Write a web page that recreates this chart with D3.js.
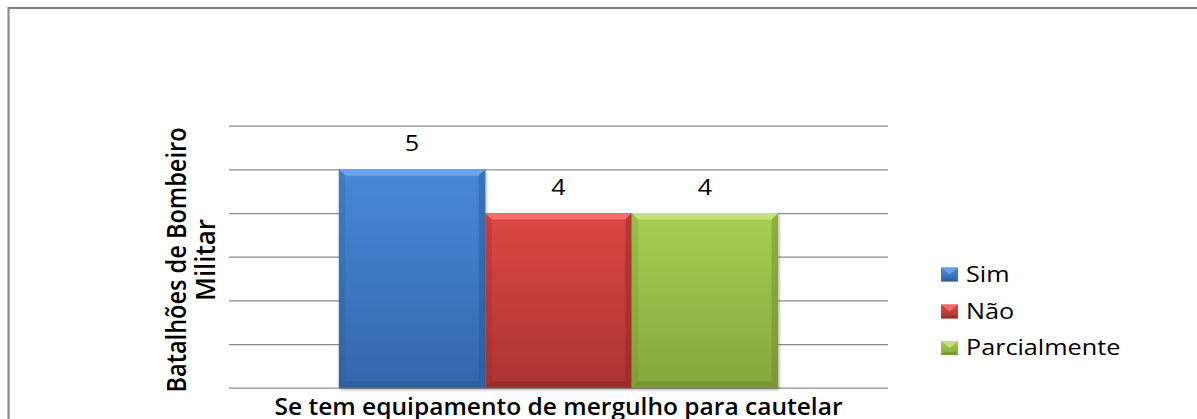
<!DOCTYPE html>
<html>
<head>
<meta charset="utf-8">
<script src="https://cdn.jsdelivr.net/npm/d3@7"></script>
<style>
  html, body { margin: 0; padding: 0; background: #fff; }
  svg { display: block; }
  text { font-family: "Open Sans", "DejaVu Sans", sans-serif; fill: #000; }
</style>
</head>
<body>
<svg id="chart" width="1197" height="419"></svg>
<script>
// Chart data
const categories = ["Se tem equipamento de mergulho para cautelar"];
const seriesNames = ["Sim", "Não", "Parcialmente"];
const seriesValues = [5, 4, 4];
const yTicks = [0, 1, 2, 3, 4, 5, 6];
const yTitleLines = ["Batalhões de Bombeiro", "Militar"];

// Bar colours: [top of gradient, bottom of gradient, light bevel, dark bevel]
const palette = {
  "Sim":          ["#4689d8", "#3466ac", "#6ea6ec", "#2b568f"],
  "Não":          ["#dc4744", "#ab3431", "#f07370", "#8a2725"],
  "Parcialmente": ["#a8cf52", "#85a63b", "#c4e57c", "#6c8a2c"]
};

const svg = d3.select("#chart");
const W = 1197, H = 419;
const plot = { left: 229, right: 888, top: 125.7, bottom: 387.7 };
const textStretch = 1.2;

const defs = svg.append("defs");
seriesNames.forEach((s, i) => {
  const g = defs.append("linearGradient").attr("id", "grad" + i)
    .attr("x1", 0).attr("y1", 0).attr("x2", 0).attr("y2", 1);
  g.append("stop").attr("offset", "0%").attr("stop-color", palette[s][0]);
  g.append("stop").attr("offset", "100%").attr("stop-color", palette[s][1]);
});
const shadow = defs.append("filter").attr("id", "shadow")
  .attr("x", "-10%").attr("y", "-10%").attr("width", "120%").attr("height", "120%");
shadow.append("feDropShadow").attr("dx", 1).attr("dy", 2).attr("stdDeviation", 1.6)
  .attr("flood-color", "#000").attr("flood-opacity", 0.35);

// Outer frame
svg.append("rect").attr("x", 0).attr("y", 0).attr("width", W).attr("height", H).attr("fill", "#fff");
svg.append("rect").attr("x", 8.5).attr("y", 8).attr("width", W + 20).attr("height", H + 20)
  .attr("fill", "none").attr("stroke", "#878787").attr("stroke-width", 2.2);

// Scales
const y = d3.scaleLinear().domain([0, 6]).range([plot.bottom, plot.top]);
const x0 = d3.scaleBand().domain(categories).range([plot.left, plot.right])
  .paddingInner(0).paddingOuter(0.25);
const x1 = d3.scaleBand().domain(seriesNames).range([0, x0.bandwidth()]).padding(0);

// Horizontal gridlines (no tick labels)
const yAxis = d3.axisLeft(y).tickValues(yTicks).tickSize(-(plot.right - plot.left)).tickFormat("");
const ga = svg.append("g").attr("transform", `translate(${plot.left},0)`).call(yAxis);
ga.select(".domain").remove();
ga.selectAll(".tick line").attr("stroke", "#8c8c8c").attr("stroke-width", 1.2);

// Bars with bevelled edges
const bev = 6.5;
const bars = svg.append("g").selectAll("g.bar")
  .data(seriesNames.map((s, i) => ({ name: s, value: seriesValues[i], idx: i })))
  .join("g").attr("class", "bar");

bars.each(function (d) {
  const g = d3.select(this);
  const bx = x0(categories[0]) + x1(d.name);
  const bw = x1.bandwidth();
  const by = y(d.value);
  const bh = y(0) - by;
  const c = palette[d.name];
  g.append("rect").attr("x", bx).attr("y", by).attr("width", bw).attr("height", bh)
    .attr("fill", `url(#grad${d.idx})`).attr("filter", "url(#shadow)");
  const x2 = bx + bw, y2 = by + bh;
  const poly = (pts, fill, op) => g.append("polygon")
    .attr("points", pts.map(p => p.join(",")).join(" "))
    .attr("fill", fill).attr("opacity", op);
  // top bevel
  poly([[bx, by], [x2, by], [x2 - bev, by + bev], [bx + bev, by + bev]], c[2], 0.9);
  // left bevel
  poly([[bx, by], [bx + bev, by + bev], [bx + bev, y2 - bev], [bx, y2]], c[3], 0.25);
  // right bevel
  poly([[x2, by], [x2, y2], [x2 - bev, y2 - bev], [x2 - bev, by + bev]], c[3], 0.45);
  // bottom bevel
  poly([[bx, y2], [bx + bev, y2 - bev], [x2 - bev, y2 - bev], [x2, y2]], c[3], 0.55);
});

// Value labels above bars
svg.append("g").selectAll("text.val")
  .data(seriesNames.map((s, i) => ({ name: s, value: seriesValues[i] })))
  .join("text").attr("class", "val")
  .attr("transform", d => {
    const cx = x0(categories[0]) + x1(d.name) + x1.bandwidth() / 2;
    return `translate(${cx},${y(d.value) - 18}) scale(${textStretch},1)`;
  })
  .attr("text-anchor", "middle").attr("font-size", 21).attr("fill", "#222")
  .text(d => d.value);

// X axis title
svg.append("text")
  .attr("x", (plot.left + plot.right) / 2).attr("y", 414.5)
  .attr("text-anchor", "middle").attr("font-weight", 600).attr("font-size", 23)
  .attr("textLength", 568).attr("lengthAdjust", "spacingAndGlyphs")
  .text(categories[0]);

// Y axis title (two lines, rotated)
const cyTitle = 260;
const yTitleX = [186, 215];
const yTitleLen = [265, 82];
yTitleLines.forEach((line, i) => {
  svg.append("text")
    .attr("transform", `translate(${yTitleX[i]},${cyTitle}) scale(1.15,1) rotate(-90)`)
    .attr("text-anchor", "middle").attr("font-weight", 600).attr("font-size", 24)
    .attr("textLength", yTitleLen[i]).attr("lengthAdjust", "spacingAndGlyphs")
    .text(line);
});

// Legend
const legendY = [274.5, 311.5, 348];
const lg = svg.append("g").selectAll("g.leg")
  .data(seriesNames.map((s, i) => ({ name: s, idx: i })))
  .join("g").attr("class", "leg")
  .attr("transform", d => `translate(941,${legendY[d.idx]})`);
lg.append("rect").attr("x", 0).attr("y", -7).attr("width", 17).attr("height", 14)
  .attr("fill", d => `url(#grad${d.idx})`);
lg.append("polygon")
  .attr("points", "0,-7 17,-7 8.5,0")
  .attr("fill", d => palette[d.name][2]).attr("opacity", 0.85);
lg.append("polygon")
  .attr("points", "0,7 17,7 14,4 3,4")
  .attr("fill", d => palette[d.name][3]).attr("opacity", 0.5);
lg.append("text")
  .attr("transform", `translate(25,7.3) scale(${textStretch},1)`)
  .attr("font-size", 21).attr("fill", "#222")
  .text(d => d.name);
</script>
</body>
</html>
